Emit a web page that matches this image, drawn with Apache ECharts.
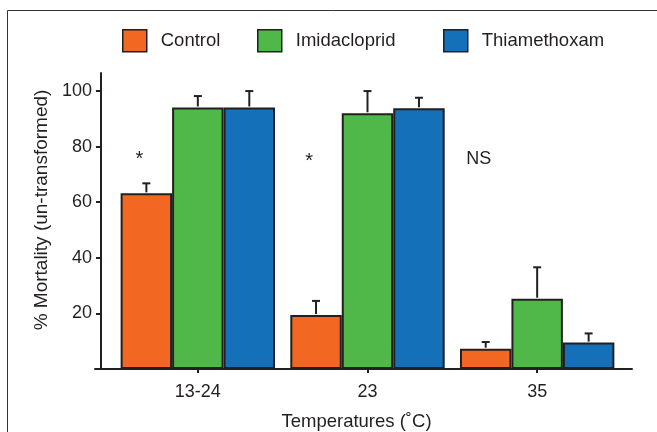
<!DOCTYPE html>
<html>
<head>
<meta charset="utf-8">
<script src="https://cdn.jsdelivr.net/npm/echarts@6/dist/echarts.min.js"></script>
<style>
html,body{margin:0;padding:0;background:#fff;}
#c{width:657px;height:432px;}
</style>
</head>
<body>
<div id="c"></div>
<script>
// ---- data ----
const categories = ['13-24', '23', '35'];
const seriesNames = ['Control', 'Imidacloprid', 'Thiamethoxam'];
const controlMean = [63.2, 19.4, 7.3];
const controlErrTop = [66.8, 24.5, 9.7];
const imidaMean = [94.1, 92.0, 25.3];
const imidaErrTop = [98.2, 100, 36.6];
const thiaMean = [94.1, 93.8, 9.5];
const thiaErrTop = [100, 97.6, 12.8];
const yTicks = [0, 20, 40, 60, 80, 100];
const yLabels = [20, 40, 60, 80, 100];
const annotText = ['*', '*', 'NS'];
const annotY = [75.5, 74.5, 75.7];
const yMax = 106.5;

// ---- styles ----
const colors = ['#F26722', '#50B848', '#1470B8'];
const ink = '#231f20';
const FONT = '"Liberation Sans", Arial, Helvetica, sans-serif';
const GAP = 0.09;

const means = [controlMean, imidaMean, thiaMean];
const errs = [controlErrTop, imidaErrTop, thiaErrTop];

const chart = echarts.init(document.getElementById('c'), null, {renderer: 'canvas'});

const series = [];
seriesNames.forEach((name, k) => {
  series.push({
    name: name,
    type: 'bar',
    xAxisIndex: 0, yAxisIndex: 0,
    data: means[k],
    barGap: '0%',
    barCategoryGap: (GAP * 100) + '%',
    itemStyle: {color: colors[k], borderColor: ink, borderWidth: 2},
    emphasis: {disabled: true},
    z: 2
  });
});
seriesNames.forEach((name, k) => {
  series.push({
    type: 'custom',
    xAxisIndex: 0, yAxisIndex: 0,
    data: categories.map((c, i) => [i, means[k][i], errs[k][i]]),
    encode: {x: 0, y: [1, 2]},
    z: 5,
    silent: true,
    renderItem: function (params, api) {
      const base = api.coord([api.value(0), api.value(1)]);
      const top = api.coord([api.value(0), api.value(2)]);
      const bw = api.size([1, 0])[0] * (1 - GAP) / 3;
      const x = base[0] + (k - 1) * bw;
      const st = {stroke: ink, lineWidth: 2};
      return {
        type: 'group',
        children: [
          {type: 'line', shape: {x1: x, y1: base[1] - 1, x2: x, y2: top[1]}, style: st},
          {type: 'line', shape: {x1: x - 4, y1: top[1], x2: x + 4, y2: top[1]}, style: st}
        ]
      };
    }
  });
});
// annotations
series.push({
  type: 'custom',
  xAxisIndex: 0, yAxisIndex: 0,
  data: categories.map((c, i) => [i, annotY[i]]),
  encode: {x: 0, y: 1},
  z: 6,
  silent: true,
  renderItem: function (params, api) {
    const p = api.coord([api.value(0), api.value(1)]);
    const bw = api.size([1, 0])[0] * (1 - GAP) / 3;
    const t = annotText[params.dataIndex];
    return {
      type: 'text',
      x: p[0] - bw - 7,
      y: p[1],
      style: {
        text: t,
        fill: ink,
        font: (t === '*' ? '20px ' : '18px ') + FONT,
        align: 'center',
        verticalAlign: 'middle'
      }
    };
  }
});

const legendBase = {
  top: 29,
  padding: 0,
  itemWidth: 24,
  itemHeight: 22,
  icon: 'rect',
  selectedMode: false,
  itemStyle: {borderColor: ink, borderWidth: 1.5},
  textStyle: {fontFamily: FONT, fontSize: 18.5, color: ink, padding: [0, 0, 0, 9]}
};
const legendLefts = [122, 257, 443];

const option = {
  backgroundColor: '#fff',
  animation: false,
  textStyle: {fontFamily: FONT},
  graphic: [{
    type: 'polyline',
    shape: {points: [[7.5, 440], [7.5, 10.5], [665, 10.5]]},
    style: {stroke: '#333', lineWidth: 1, fill: null},
    silent: true
  }],
  legend: seriesNames.map((n, k) => Object.assign({}, legendBase, {left: legendLefts[k], data: [n]})),
  grid: [
    {left: 113, right: 35, top: 73, bottom: 63, containLabel: false, outerBoundsMode: 'none'},
    {left: 95, right: 25, top: 73, bottom: 63, containLabel: false, outerBoundsMode: 'none'}
  ],
  xAxis: [
    {
      type: 'category', gridIndex: 0, data: categories,
      axisLine: {show: false},
      axisTick: {show: true, alignWithLabel: true, length: 4, lineStyle: {color: ink, width: 2}},
      axisLabel: {fontSize: 18, color: ink, fontFamily: FONT, margin: 14},
      name: 'Temperatures (˚C)',
      nameLocation: 'middle',
      nameGap: 43,
      nameTextStyle: {fontSize: 18.5, color: ink, fontFamily: FONT, padding: [0, 22, 0, 0]}
    },
    {
      type: 'category', gridIndex: 1, data: [''],
      axisLine: {show: true, lineStyle: {color: ink, width: 2}},
      axisTick: {show: false},
      axisLabel: {show: false}
    }
  ],
  yAxis: [
    {
      type: 'value', gridIndex: 0, min: 0, max: yMax, offset: 12,
      splitLine: {show: false},
      axisLine: {show: true, lineStyle: {color: ink, width: 2}},
      axisTick: {show: true, length: 5, customValues: yTicks, lineStyle: {color: ink, width: 2}},
      axisLabel: {fontSize: 18, color: ink, fontFamily: FONT, margin: 9, customValues: yLabels},
      name: '% Mortality (un-transformed)',
      nameLocation: 'middle',
      nameRotate: 90,
      nameGap: 45,
      nameTextStyle: {fontSize: 19, color: ink, fontFamily: FONT, padding: [0, 0, 0, 22]}
    },
    {
      type: 'value', gridIndex: 1, min: 0, max: 1, show: false
    }
  ],
  series: series
};
chart.setOption(option);
</script>
</body>
</html>
